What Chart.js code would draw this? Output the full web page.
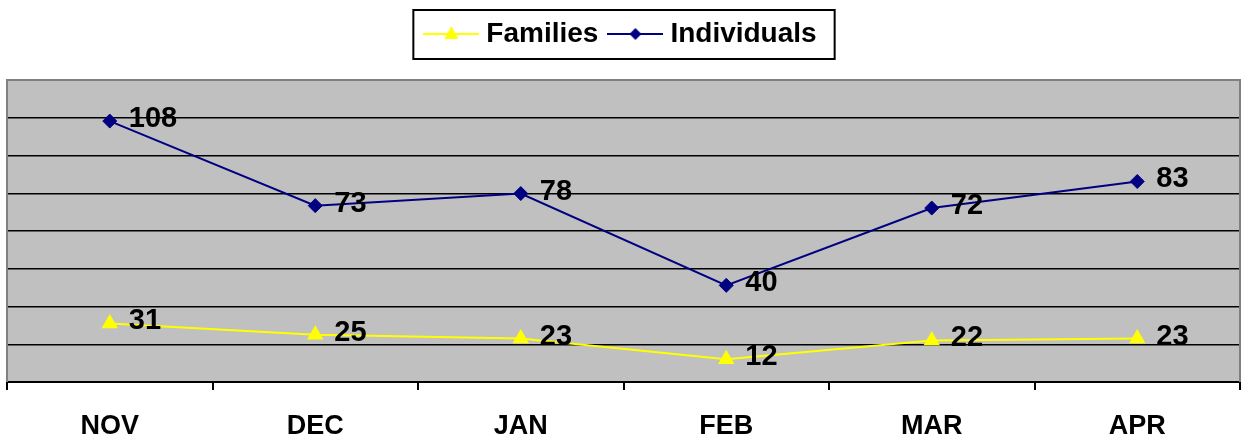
<!DOCTYPE html>
<html>
<head>
<meta charset="utf-8">
<script src="https://cdn.jsdelivr.net/npm/chart.js@4.4.1/dist/chart.umd.min.js"></script>
<style>
html, body { margin: 0; padding: 0; background: #fff; }
</style>
</head>
<body>
<canvas id="lineChart" width="1242" height="439"></canvas>
<script>
// DATOS
const meses = ['NOV', 'DEC', 'JAN', 'FEB', 'MAR', 'APR'];
const families = [31, 25, 23, 12, 22, 23];
const individuals = [108, 73, 78, 40, 72, 83];

const fuente = "'Liberation Sans', Arial, sans-serif";

// iconos de la leyenda: linea con marcador al centro
function icono(color, forma) {
    const c = document.createElement('canvas');
    c.width = 56; c.height = 20;
    const g = c.getContext('2d');
    g.strokeStyle = color; g.lineWidth = 2;
    g.beginPath(); g.moveTo(0, 10); g.lineTo(56, 10); g.stroke();
    g.fillStyle = color;
    g.beginPath();
    if (forma === 'triangle') {
        g.moveTo(28, 2); g.lineTo(35, 15); g.lineTo(21, 15);
    } else {
        g.moveTo(28, 4); g.lineTo(34, 10); g.lineTo(28, 16); g.lineTo(22, 10);
    }
    g.closePath(); g.fill();
    return c;
}
const iconos = [icono('#FFFF00', 'triangle'), icono('#000080', 'diamond')];

// fondo gris del area de trazado
const fondoArea = {
    id: 'fondoArea',
    beforeDraw(chart) {
        const a = chart.chartArea, ctx = chart.ctx;
        ctx.save();
        ctx.fillStyle = '#C0C0C0';
        ctx.fillRect(a.left, a.top, a.right - a.left, a.bottom - a.top);
        ctx.restore();
    },
    beforeDatasetsDraw(chart) {
        const a = chart.chartArea, ctx = chart.ctx;
        ctx.save();
        ctx.strokeStyle = '#808080'; ctx.lineWidth = 2;
        ctx.beginPath();
        ctx.moveTo(a.left, a.bottom); ctx.lineTo(a.left, a.top);
        ctx.lineTo(a.right, a.top); ctx.lineTo(a.right, a.bottom);
        ctx.stroke();
        ctx.restore();
    }
};

// etiquetas de valores
const etiquetas = {
    id: 'etiquetas',
    afterDatasetsDraw(chart) {
        const ctx = chart.ctx;
        ctx.save();
        ctx.font = 'bold 29px ' + fuente;
        ctx.fillStyle = '#000';
        ctx.textBaseline = 'middle';
        chart.data.datasets.forEach((ds, i) => {
            chart.getDatasetMeta(i).data.forEach((pt, j) => {
                ctx.fillText(String(ds.data[j]), pt.x + 19, pt.y - 2);
            });
        });
        ctx.restore();
    }
};

// marco de la leyenda
const marcoLeyenda = {
    id: 'marcoLeyenda',
    afterDraw(chart) {
        const boxes = chart.legend && chart.legend.legendHitBoxes;
        if (!boxes || !boxes.length) return;
        const first = boxes[0], last = boxes[boxes.length - 1];
        const l = first.left - 17, r = last.left + last.width + 18;
        const t = first.top - 10, b = first.top + first.height + 11;
        const ctx = chart.ctx;
        ctx.save();
        ctx.strokeStyle = '#000'; ctx.lineWidth = 2;
        ctx.strokeRect(l, t, r - l, b - t);
        ctx.restore();
    }
};

new Chart(document.getElementById('lineChart').getContext('2d'), {
    type: 'line',
    data: {
        labels: meses,
        datasets: [
            {
                label: 'Families', data: families, yAxisID: 'yFam',
                borderColor: '#FFFF00', backgroundColor: '#FFFF00', borderWidth: 2,
                pointStyle: 'triangle', pointRadius: 9.5, pointBorderWidth: 0, tension: 0
            },
            {
                label: 'Individuals', data: individuals, yAxisID: 'yInd',
                borderColor: '#000080', backgroundColor: '#000080', borderWidth: 2,
                pointStyle: 'rectRot', pointRadius: 7, pointBorderWidth: 1, tension: 0
            }
        ]
    },
    options: {
        responsive: false,
        animation: false,
        layout: { autoPadding: false, padding: { left: 7, right: 2, top: 4, bottom: 0 } },
        plugins: {
            tooltip: { enabled: false },
            legend: {
                position: 'top',
                labels: {
                    color: '#000',
                    font: { family: fuente, size: 28, weight: 'bold' },
                    usePointStyle: true,
                    pointStyleWidth: 42,
                    padding: 16,
                    generateLabels(chart) {
                        const items = Chart.defaults.plugins.legend.labels.generateLabels(chart);
                        items.forEach((it, i) => { it.pointStyle = iconos[i]; });
                        return items;
                    }
                }
            }
        },
        scales: {
            x: {
                type: 'category',
                offset: true,
                grid: { offset: true, drawOnChartArea: false, drawTicks: true, tickLength: 8, color: '#000', lineWidth: 2 },
                border: { color: '#000', width: 2 },
                ticks: { color: '#000', font: { family: fuente, size: 27, weight: 'bold' }, padding: 20, maxRotation: 0, autoSkip: false },
                afterFit: s => { s.height = 57; }
            },
            xTop: {
                type: 'category',
                position: 'top',
                grid: { display: false },
                border: { display: false },
                ticks: { display: false },
                afterFit: s => { s.height = 22; }
            },
            yFam: {
                position: 'left',
                min: 0, max: 160,
                ticks: { stepSize: 20, display: false },
                grid: {
                    color: ctx => (ctx.tick.value === 0 || ctx.tick.value === 160) ? 'rgba(0,0,0,0)' : '#000',
                    lineWidth: 1.5, drawTicks: false
                },
                border: { display: false }
            },
            yInd: { position: 'right', display: false, min: 0, max: 125 }
        }
    },
    plugins: [fondoArea, etiquetas, marcoLeyenda]
});
</script>
</body>
</html>
